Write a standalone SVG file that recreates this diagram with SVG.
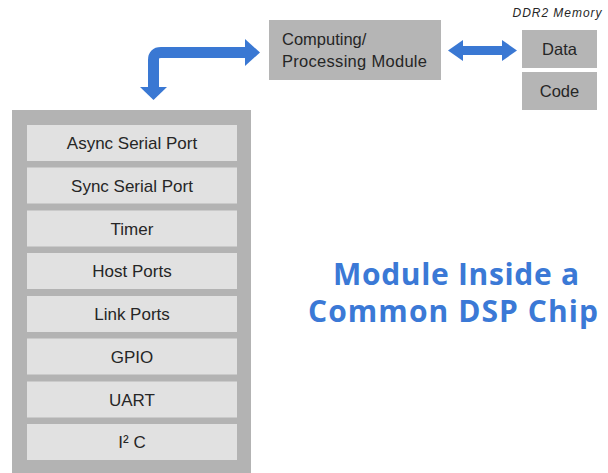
<svg xmlns="http://www.w3.org/2000/svg" width="608" height="473" viewBox="0 0 608 473">
<style>
.lbl{font-family:"Liberation Sans",Arial,sans-serif;font-size:17px;fill:#262626;text-anchor:middle}
.row{fill:#e1e1e1}
.box{fill:#b5b5b5}
.title{font-family:"Open Sans",sans-serif;font-weight:bold;font-size:30px;fill:#3b79d6;text-anchor:middle}
.arr{fill:#3a78d3}
</style>
<rect width="608" height="473" fill="#ffffff"/>
<g id="connectors">
<path d="M153.5 88 V60 Q153.5 52.5 161 52.5 H246" fill="none" stroke="#3a78d3" stroke-width="11"/>
<polygon class="arr" points="245,39 260,52.5 245,66"/>
<polygon class="arr" points="140,87 167,87 153.5,100"/>
<rect class="arr" x="462" y="46" width="41" height="9"/>
<polygon class="arr" points="463,40 448,50.5 463,61"/>
<polygon class="arr" points="502,40 517,50.5 502,61"/>
</g>
<g id="computing">
<rect class="box" x="269" y="20" width="172" height="60"/>
<text class="lbl" style="text-anchor:start;font-size:16.5px" x="282" y="45">Computing/</text>
<text class="lbl" style="text-anchor:start;font-size:16.5px" x="282" y="67" textLength="145">Processing Module</text>
</g>
<g id="ddr2">
<text x="557" y="17" style="font-family:'Liberation Sans',Arial,sans-serif;font-style:italic;font-size:12px;fill:#262626;text-anchor:middle" textLength="89">DDR2 Memory</text>
</g>
<g id="data">
<rect class="box" x="522" y="30" width="75" height="38"/>
<text class="lbl" style="font-size:16.5px" x="559.5" y="55">Data</text>
</g>
<g id="code">
<rect class="box" x="522" y="72" width="75" height="38"/>
<text class="lbl" style="font-size:16.5px" x="559.5" y="97">Code</text>
</g>
<g id="chip">
<rect x="12" y="110" width="239" height="363" fill="#b3b3b3"/>
</g>
<g id="async"><rect class="row" x="27" y="125" width="210" height="36"/><text class="lbl" x="132" y="149">Async Serial Port</text></g>
<g id="sync"><rect class="row" x="27" y="167.5" width="210" height="36"/><text class="lbl" x="132" y="191.5">Sync Serial Port</text></g>
<g id="timer"><rect class="row" x="27" y="210.5" width="210" height="36"/><text class="lbl" x="132" y="234.5">Timer</text></g>
<g id="host"><rect class="row" x="27" y="253" width="210" height="36"/><text class="lbl" x="132" y="277">Host Ports</text></g>
<g id="link"><rect class="row" x="27" y="296" width="210" height="36"/><text class="lbl" x="132" y="320">Link Ports</text></g>
<g id="gpio"><rect class="row" x="27" y="338.5" width="210" height="36"/><text class="lbl" x="132" y="362.5">GPIO</text></g>
<g id="uart"><rect class="row" x="27" y="381.5" width="210" height="36"/><text class="lbl" x="132" y="405.5">UART</text></g>
<g id="i2c"><rect class="row" x="27" y="424" width="210" height="36"/><text class="lbl" x="132" y="448">I² C</text></g>
<g id="title">
<text class="title" x="456" y="285" textLength="246">Module Inside a</text>
<text class="title" x="453" y="322" textLength="290">Common DSP Chip</text>
</g>
</svg>
